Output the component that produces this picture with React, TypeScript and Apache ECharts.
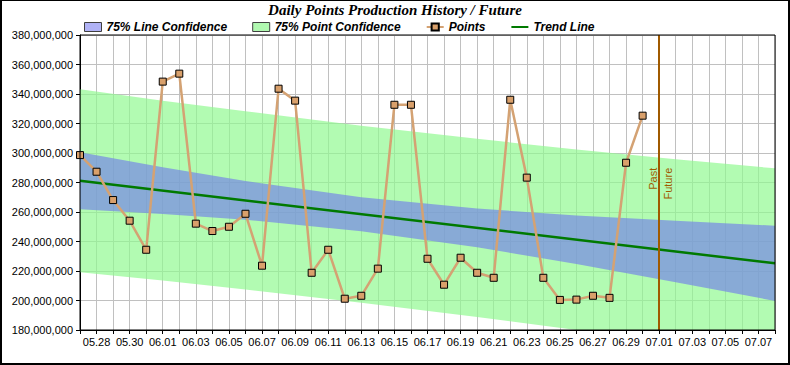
import React, { useEffect, useRef } from "react";
import * as echarts from "echarts";

// x-axis categories (daily)
const categories = [
  "05.27", "05.28", "05.29", "05.30", "05.31", "06.01", "06.02", "06.03", "06.04", "06.05",
  "06.06", "06.07", "06.08", "06.09", "06.10", "06.11", "06.12", "06.13", "06.14", "06.15",
  "06.16", "06.17", "06.18", "06.19", "06.20", "06.21", "06.22", "06.23", "06.24", "06.25",
  "06.26", "06.27", "06.28", "06.29", "06.30", "07.01", "07.02", "07.03", "07.04", "07.05",
  "07.06", "07.07", "07.08",
];

// Daily points (millions), starting at 05.27
const pointValues = [
  298.6, 287.3, 268.1, 254.1, 234.4, 348.4, 353.8, 252.1, 247.1, 250.0,
  258.8, 223.6, 343.6, 335.5, 218.8, 234.4, 201.2, 203.2, 221.6, 332.7,
  332.7, 228.3, 210.7, 229.0, 218.8, 215.4, 336.1, 283.3, 215.4, 200.4,
  200.6, 203.2, 201.8, 293.4, 325.3,
];

// Trend line (millions)
const trendDates = ["05.27", "07.08"];
const trendValues = [281.2, 225.2];

// Confidence bands (millions), read at these dates
const bandDates = ["05.27", "06.01", "06.06", "06.13", "06.20", "06.26", "07.02", "07.08"];
const lineUpper = [300.5, 290.4, 281.0, 270.0, 262.3, 257.7, 254.0, 250.7];
const lineLower = [261.9, 258.6, 254.8, 247.0, 236.1, 224.7, 212.4, 199.7];
const pointUpper = [343.3, 335.5, 328.3, 318.5, 309.6, 302.4, 295.8, 289.6];
const pointLower = [219.1, 213.5, 207.5, 198.5, 188.8, 180.0, 170.6, 160.8];

// Past / Future divider
const futureDate = "07.01";
const dividerLabelTop = 290; // millions

const M = 1e6;
const GRID = { left: 80, right: 15, top: 35, bottom: 35 };
const W = 790;
const H = 365;

export default function App() {
  const ref = useRef<HTMLDivElement>(null);

  useEffect(() => {
    if (!ref.current) return;
    const chart = echarts.init(ref.current, undefined, { renderer: "svg" });
    const sans = '"Liberation Sans", Arial, sans-serif';
    const brown = "#a05a00";

    const hidden = { opacity: 0, width: 0 };

    chart.setOption({
      animation: false,
      backgroundColor: "#fff",
      title: {
        text: "Daily Points Production History / Future",
        left: "center",
        top: 2,
        padding: 0,
        textStyle: {
          fontFamily: '"Liberation Serif", "Times New Roman", serif',
          fontStyle: "italic",
          fontWeight: "bold",
          fontSize: 15,
          color: "#000",
        },
      },
      legend: {
        left: 84,
        top: 21,
        padding: 0,
        itemGap: 25,
        itemWidth: 17,
        itemHeight: 9,
        selectedMode: false,
        textStyle: {
          fontFamily: sans,
          fontSize: 12,
          fontWeight: "bold",
          fontStyle: "italic",
          color: "#000",
        },
        data: [
          {
            name: "75% Line Confidence",
            icon: "rect",
            itemStyle: { color: "#b0b2f6", borderColor: "#404040", borderWidth: 1 },
          },
          {
            name: "75% Point Confidence",
            icon: "rect",
            itemStyle: { color: "#b0f8b0", borderColor: "#404040", borderWidth: 1 },
          },
          { name: "Points" },
          { name: "Trend Line", itemStyle: { opacity: 0 } },
        ],
      },
      grid: { ...GRID, containLabel: false },
      xAxis: {
        type: "category",
        data: categories,
        boundaryGap: false,
        axisLine: { show: true, lineStyle: { color: "#000", width: 1 } },
        axisTick: { show: true, interval: 0, length: 4, lineStyle: { color: "#000" } },
        axisLabel: {
          interval: (i: number) => i % 2 === 1,
          margin: 6,
          fontFamily: sans,
          fontSize: 11,
          color: "#000",
        },
        splitLine: { show: true, interval: 0, lineStyle: { color: "#c0c0c0", width: 1 } },
      },
      yAxis: {
        type: "value",
        min: 180 * M,
        max: 380 * M,
        interval: 20 * M,
        axisLine: { show: true, lineStyle: { color: "#000", width: 1 } },
        axisTick: { show: true, length: 4, lineStyle: { color: "#000" } },
        axisLabel: {
          margin: 7,
          fontFamily: sans,
          fontSize: 11,
          color: "#000",
          formatter: (v: number) => v.toLocaleString("en-US"),
        },
        splitLine: { show: true, lineStyle: { color: "#c0c0c0", width: 1 } },
      },
      series: [
        {
          name: "pointLow",
          type: "line",
          stack: "point",
          data: bandDates.map((d, i) => [d, pointLower[i] * M]),
          symbol: "none",
          lineStyle: hidden,
          silent: true,
          z: 1,
        },
        {
          name: "75% Point Confidence",
          type: "line",
          stack: "point",
          data: bandDates.map((d, i) => [d, (pointUpper[i] - pointLower[i]) * M]),
          symbol: "none",
          lineStyle: hidden,
          itemStyle: { color: "#b0f8b0" },
          areaStyle: { color: "rgb(146,249,146)", opacity: 0.7 },
          silent: true,
          z: 1,
        },
        {
          name: "lineLow",
          type: "line",
          stack: "line",
          data: bandDates.map((d, i) => [d, lineLower[i] * M]),
          symbol: "none",
          lineStyle: hidden,
          silent: true,
          z: 2,
        },
        {
          name: "75% Line Confidence",
          type: "line",
          stack: "line",
          data: bandDates.map((d, i) => [d, (lineUpper[i] - lineLower[i]) * M]),
          symbol: "none",
          lineStyle: hidden,
          itemStyle: { color: "#b0b2f6" },
          areaStyle: { color: "rgb(118,135,229)", opacity: 0.7 },
          silent: true,
          z: 2,
        },
        {
          name: "Trend Line",
          type: "line",
          data: trendDates.map((d, i) => [d, trendValues[i] * M]),
          symbol: "none",
          lineStyle: { color: "#007a00", width: 2.5 },
          itemStyle: { color: "#007a00" },
          z: 3,
        },
        {
          name: "Points",
          type: "line",
          data: pointValues.map((v) => v * M),
          symbol: "rect",
          symbolSize: 7,
          showAllSymbol: true,
          lineStyle: { color: "#d4a273", width: 2.5 },
          itemStyle: { color: "#d9a06b", borderColor: "#000", borderWidth: 1 },
          z: 4,
          markLine: {
            silent: true,
            symbol: ["none", "none"],
            label: { show: false },
            lineStyle: { color: brown, width: 2, type: "solid" },
            data: [{ xAxis: futureDate }],
          },
        },
      ],
    });

    const idx = categories.indexOf(futureDate);
    const p = chart.convertToPixel({ gridIndex: 0 }, [idx, dividerLabelTop * M]) as number[];
    const font = `11px ${sans}`;
    chart.setOption({
      graphic: [
        {
          type: "rect",
          silent: true,
          z: 100,
          shape: {
            x: GRID.left,
            y: GRID.top,
            width: W - GRID.left - GRID.right,
            height: H - GRID.top - GRID.bottom,
          },
          style: { fill: "none", stroke: "#000", lineWidth: 1 },
        },
        {
          type: "text",
          x: p[0] - 0.5,
          y: p[1],
          rotation: Math.PI / 2,
          z: 100,
          style: { text: "Past", fill: brown, font, align: "right", verticalAlign: "bottom" },
        },
        {
          type: "text",
          x: p[0] + 3,
          y: p[1],
          rotation: Math.PI / 2,
          z: 100,
          style: { text: "Future", fill: brown, font, align: "right", verticalAlign: "top" },
        },
      ],
    });

    return () => chart.dispose();
  }, []);

  return (
    <div style={{ position: "absolute", left: 0, top: 0, width: W, height: H }}>
      <div ref={ref} style={{ width: W, height: H }} />
      <div
        style={{
          position: "absolute",
          left: 0,
          top: 0,
          width: W,
          height: H,
          boxSizing: "border-box",
          borderTop: "1px solid #000",
          borderLeft: "2px solid #000",
          borderRight: "2px solid #000",
          borderBottom: "2px solid #000",
          pointerEvents: "none",
        }}
      />
    </div>
  );
}
